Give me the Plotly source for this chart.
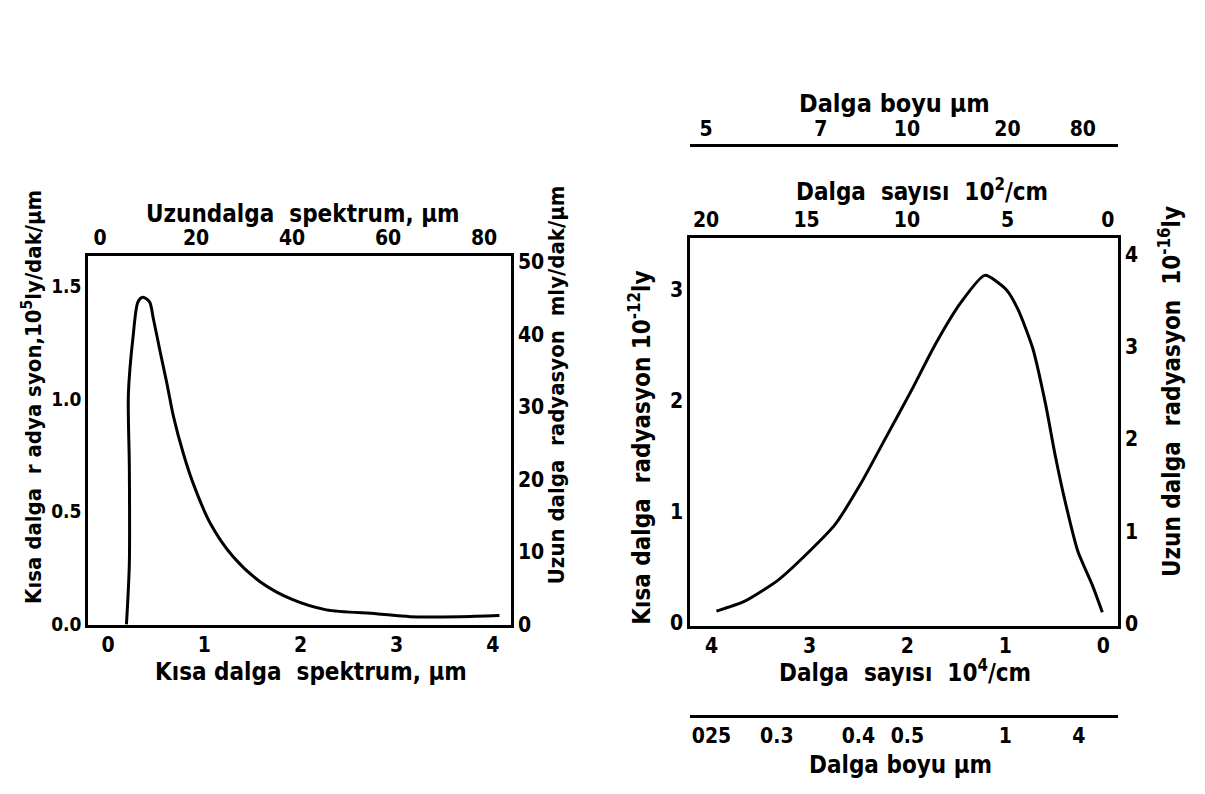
import plotly.graph_objects as go

# ---------------- data ----------------
# Left panel: short-wave spectrum (micrometres) vs short-wave radiation (10^5 ly/dak/um)
sw_wavelength = [0.19, 0.22, 0.22, 0.21, 0.26, 0.31, 0.36, 0.43, 0.47, 0.54, 0.61, 0.68,
                 0.78, 0.88, 1.06, 1.30, 1.58, 1.92, 2.27, 2.79, 3.14, 3.66, 4.07]
sw_radiation = [0.00, 0.27, 0.70, 1.02, 1.28, 1.43, 1.45, 1.43, 1.355, 1.21, 1.07, 0.92,
                0.76, 0.63, 0.45, 0.30, 0.19, 0.11, 0.065, 0.048, 0.035, 0.035, 0.04]

left_bottom_ticks = [0, 1, 2, 3, 4]
left_top_ticks = [0, 20, 40, 60, 80]
left_left_ticks = [0.0, 0.5, 1.0, 1.5]
left_left_labels = ["0.0", "0.5", "1.0", "1.5"]
left_right_ticks = [0, 10, 20, 30, 40, 50]

# Right panel: wave number (10^4 /cm) vs radiation (10^-12 ly)
wavenumber = [3.95, 3.66, 3.32, 3.00, 2.74, 2.47, 2.23, 1.96, 1.72, 1.45, 1.21, 0.99,
              0.87, 0.72, 0.59, 0.49, 0.39, 0.26, 0.11, 0.01]
radiation = [0.10, 0.19, 0.38, 0.64, 0.88, 1.26, 1.65, 2.09, 2.50, 2.89, 3.13, 3.00,
             2.82, 2.47, 1.97, 1.50, 1.09, 0.64, 0.33, 0.09]

right_bottom_ticks = [4, 3, 2, 1, 0]
right_top_ticks = [20, 15, 10, 5, 0]
right_left_ticks = [0, 1, 2, 3]
right_right_ticks = [0, 1, 2, 3, 4]

# wavelength scales (micrometres)
lw_wavelength_labels = [5, 7, 10, 20, 80]          # top scale (vs 10^2 /cm)
sw_wavelength_labels = [0.25, 0.3, 0.4, 0.5, 1, 4]  # bottom scale (vs 10^4 /cm)
sw_wavelength_text = ["025", "0.3", "0.4", "0.5", "1", "4"]

# ---------------- layout helpers ----------------
OFF = 8                       # page body margin
W, H = 1205 - 2 * OFF, 794 - 2 * OFF
def px(x):
    return (x - OFF) / W
def py(y):
    return 1 - (y - OFF) / H

FONT = "DejaVu Sans Condensed"
tickfont = dict(family=FONT, size=21, color="black", weight="bold")
LINE = dict(showline=True, linecolor="black", linewidth=2.5, ticks="", showgrid=False,
            zeroline=False)

left_dom_x = [px(88), px(511)]
left_dom_y = [py(633), py(256)]
right_dom_x = [px(690), px(1118)]
right_dom_y = [py(634), py(237)]

fig = go.Figure()

fig.add_trace(go.Scatter(x=sw_wavelength, y=sw_radiation, xaxis="x", yaxis="y",
                         mode="lines", line=dict(color="black", width=3, shape="spline", smoothing=0.8),
                         showlegend=False, hoverinfo="skip"))
# companion axes of the left panel (top / right)
fig.add_trace(go.Scatter(x=left_top_ticks, y=[None] * len(left_top_ticks), xaxis="x2", yaxis="y2",
                         mode="lines", showlegend=False, hoverinfo="skip"))

fig.add_trace(go.Scatter(x=wavenumber, y=radiation, xaxis="x3", yaxis="y3",
                         mode="lines", line=dict(color="black", width=3, shape="spline", smoothing=0.6),
                         showlegend=False, hoverinfo="skip"))
fig.add_trace(go.Scatter(x=right_top_ticks, y=[None] * len(right_top_ticks), xaxis="x4", yaxis="y4",
                         mode="lines", showlegend=False, hoverinfo="skip"))
lw_wn = [100.0 / w for w in lw_wavelength_labels]
sw_wn = [1.0 / w for w in sw_wavelength_labels]
fig.add_trace(go.Scatter(x=lw_wn, y=[None] * len(lw_wn), xaxis="x5", yaxis="y3",
                         mode="lines", showlegend=False, hoverinfo="skip"))
fig.add_trace(go.Scatter(x=sw_wn, y=[None] * len(sw_wn), xaxis="x6", yaxis="y3",
                         mode="lines", showlegend=False, hoverinfo="skip"))

fig.update_layout(
    width=W, height=H, margin=dict(l=0, r=0, t=0, b=0),
    paper_bgcolor="white", plot_bgcolor="rgba(0,0,0,0)",
    font=dict(family=FONT, color="black"),
    xaxis=dict(domain=left_dom_x, anchor="y", range=[-0.21, 4.19],
               tickvals=left_bottom_ticks, ticklabelstandoff=0, tickfont=tickfont, **LINE),
    xaxis2=dict(domain=left_dom_x, anchor="y", overlaying="x", side="top", range=[-2.5, 85.6],
                tickvals=left_top_ticks, ticklabelstandoff=0, tickfont=tickfont, **LINE),
    yaxis=dict(domain=left_dom_y, anchor="x", range=[0, 1.632],
               tickvals=left_left_ticks, ticktext=left_left_labels,
               tickfont=dict(tickfont, size=19), **LINE),
    yaxis2=dict(domain=left_dom_y, anchor="x", overlaying="y", side="right", range=[0, 50.8],
                tickvals=left_right_ticks, tickfont=tickfont, **LINE),
    xaxis3=dict(domain=right_dom_x, anchor="y3", range=[4.22, -0.15],
                tickvals=right_bottom_ticks, ticklabelstandoff=0, tickfont=tickfont, **LINE),
    xaxis4=dict(domain=right_dom_x, anchor="y3", overlaying="x3", side="top", range=[20.8, -0.5],
                tickvals=right_top_ticks, ticklabelstandoff=0, tickfont=tickfont, **LINE),
    xaxis5=dict(domain=right_dom_x, anchor="free", position=py(142), overlaying="x3", side="top",
                range=[20.8, -0.5], tickvals=lw_wn, ticktext=[str(v) for v in lw_wavelength_labels],
                ticklabelstandoff=0, tickfont=tickfont, **LINE),
    xaxis6=dict(domain=right_dom_x, anchor="free", position=py(727), overlaying="x3", side="bottom",
                range=[4.22, -0.15], tickvals=sw_wn, ticktext=sw_wavelength_text,
                ticklabelstandoff=0, tickfont=tickfont, **LINE),
    yaxis3=dict(domain=right_dom_y, anchor="x3", range=[-0.03, 3.47],
                tickvals=right_left_ticks, tickfont=tickfont, **LINE),
    yaxis4=dict(domain=right_dom_y, anchor="x3", overlaying="y3", side="right", range=[-0.02, 4.18],
                tickvals=right_right_ticks, tickfont=tickfont, **LINE),
)

ann = [
    ("Uzundalga  spektrum, μm", 303, 213, 0, 24),
    ("Kısa dalga  spektrum, μm", 311, 682, 0, 24),
    ("Kısa dalga  r adya syon,10<sup>5</sup>ly/dak/μm", 32, 400, -90, 22),
    ("Uzun dalga  radyasyon  mly/dak/μm", 556, 388, -90, 22),
    ("Dalga boyu μm", 894, 100, 0, 25),
    ("Dalga  sayısı  10<sup>2</sup>/cm", 922, 188, 0, 24),
    ("Kısa dalga  radyasyon 10<sup>-12</sup>ly", 640, 452, -90, 24),
    ("Uzun dalga  radyasyon  10<sup>-16</sup>ly", 1170, 395, -90, 24),
    ("Dalga  sayısı  10<sup>4</sup>/cm", 905, 681, 0, 24),
    ("Dalga boyu μm", 900, 777, 0, 24),
]
for text, x, y, ang, size in ann:
    fig.add_annotation(text=text, x=px(x), y=py(y), xref="paper", yref="paper",
                       showarrow=False, textangle=ang,
                       font=dict(family=FONT, size=size, color="black", weight="bold"),
                       xanchor="center", yanchor="middle")

fig.write_html("out.html")
